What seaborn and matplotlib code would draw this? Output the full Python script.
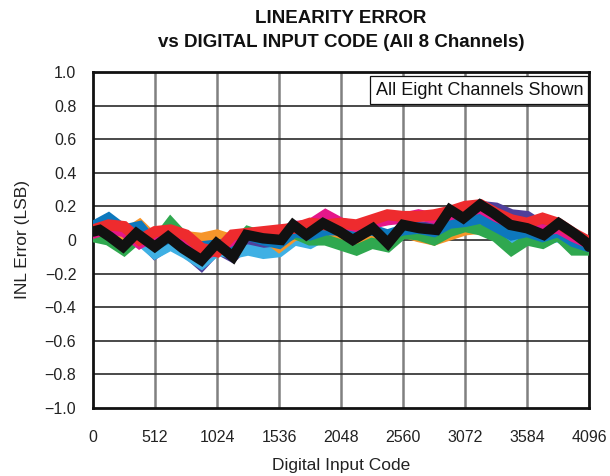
import matplotlib
matplotlib.use('Agg')
import matplotlib.pyplot as plt
import seaborn as sns
import pandas as pd
from matplotlib.ticker import FixedLocator

# codes read every 128 LSB for the coloured channels
codes = [0, 128, 256, 384, 512, 640, 768, 896, 1024, 1152, 1280, 1408, 1536,
         1664, 1792, 1920, 2048, 2176, 2304, 2432, 2560, 2688, 2816, 2944,
         3072, 3200, 3328, 3456, 3584, 3712, 3840, 3968, 4096]

ch_purple = [0.05, 0.05, 0.00, 0.02, -0.08, -0.02, -0.07, -0.15, -0.05, -0.10, -0.01,
             -0.03, -0.02, 0.05, 0.02, 0.06, 0.04, 0.00, 0.05, 0.00, 0.07, 0.08,
             0.07, 0.15, 0.16, 0.20, 0.19, 0.15, 0.14, 0.08, 0.09, 0.03, -0.02]
ch_lightblue = [0.04, 0.02, -0.02, 0.00, -0.08, -0.03, -0.08, -0.14, -0.06, -0.08, -0.06,
                -0.08, -0.07, 0.00, -0.02, 0.03, 0.02, -0.03, 0.02, 0.00, 0.04, 0.04,
                0.02, 0.08, 0.08, 0.10, 0.06, 0.00, 0.03, 0.00, 0.02, -0.03, -0.05]
ch_orange = [0.08, 0.10, 0.03, 0.09, 0.00, 0.06, 0.02, 0.01, 0.03, 0.00, 0.04,
             0.03, -0.04, 0.03, 0.02, 0.03, 0.02, 0.00, 0.04, 0.02, 0.05, 0.02,
             0.00, 0.03, 0.06, 0.07, 0.05, 0.05, 0.05, 0.02, 0.04, -0.02, -0.04]
ch_green = [0.02, 0.00, -0.06, 0.02, -0.02, 0.10, 0.00, -0.05, -0.03, -0.05, 0.05,
            0.02, 0.00, 0.04, 0.00, 0.00, -0.03, -0.06, -0.02, -0.04, 0.04, 0.03,
            0.00, 0.05, 0.08, 0.06, 0.02, -0.06, 0.00, -0.02, 0.03, -0.06, -0.06]
ch_blue = [0.08, 0.13, 0.06, 0.08, -0.03, 0.02, -0.02, -0.04, -0.03, -0.02, 0.03,
           0.00, -0.02, 0.05, 0.03, 0.06, 0.06, 0.04, 0.06, 0.03, 0.06, 0.07,
           0.05, 0.10, 0.11, 0.13, 0.08, 0.03, 0.05, 0.02, 0.05, -0.01, -0.04]
ch_magenta = [0.04, 0.07, 0.05, -0.02, 0.03, 0.04, 0.00, -0.10, -0.05, 0.00, 0.03,
              0.02, 0.04, 0.08, 0.09, 0.15, 0.10, 0.08, 0.10, 0.12, 0.13, 0.15,
              0.13, 0.15, 0.17, 0.19, 0.14, 0.10, 0.08, 0.06, 0.07, 0.02, -0.02]
ch_red = [0.06, 0.09, 0.08, 0.00, 0.05, 0.06, 0.03, -0.05, -0.07, 0.03, 0.04,
          0.05, 0.06, 0.07, 0.10, 0.09, 0.10, 0.09, 0.12, 0.15, 0.14, 0.14,
          0.15, 0.17, 0.20, 0.21, 0.16, 0.12, 0.10, 0.13, 0.10, 0.04, -0.01]

# black channel read at its turning points
codes_black = [0, 55, 138, 248, 358, 510, 620, 743, 895, 1019, 1156, 1266, 1404,
               1555, 1652, 1762, 1900, 2037, 2145, 2311, 2435, 2560, 2698, 2836,
               2947, 3058, 3196, 3307, 3445, 3584, 3722, 3846, 3971, 4082, 4096]
ch_black = [0.05, 0.06, 0.02, -0.04, 0.04, -0.04, 0.02, -0.05, -0.12, -0.02, -0.10,
            0.03, 0.01, 0.00, 0.09, 0.03, 0.10, 0.05, 0.00, 0.07, -0.02, 0.09,
            0.07, 0.06, 0.18, 0.13, 0.21, 0.16, 0.09, 0.07, 0.03, 0.10, 0.04,
            -0.02, -0.04]

names = ['purple', 'lightblue', 'orange', 'green', 'blue', 'magenta', 'red']
series = [ch_purple, ch_lightblue, ch_orange, ch_green, ch_blue, ch_magenta, ch_red]
palette = {'purple': '#4f3f9a', 'lightblue': '#3fb0e4', 'orange': '#f6952a',
           'green': '#2fa84f', 'blue': '#0d78bd', 'magenta': '#e5178a',
           'red': '#ee2b2e'}

df = pd.concat([pd.DataFrame({'code': codes, 'inl': s, 'channel': n})
                for n, s in zip(names, series)], ignore_index=True)
df_black = pd.DataFrame({'code': codes_black, 'inl': ch_black})

sns.set_theme(style='white')
plt.rcParams['font.family'] = ['Liberation Sans', 'DejaVu Sans']

fig = plt.figure(figsize=(6.1, 4.76), dpi=100)
ax = fig.add_axes([0.1525, 0.1429, 0.8131, 0.7058])

sns.lineplot(data=df, x='code', y='inl', hue='channel', hue_order=names,
             palette=palette, linewidth=8, legend=False, ax=ax,
             solid_joinstyle='miter', zorder=3)
sns.lineplot(data=df_black, x='code', y='inl', color='#111111', linewidth=7.5,
             ax=ax, solid_joinstyle='miter', zorder=4)

ax.set_xlim(0, 4096)
ax.set_ylim(-1.0, 1.0)
xt = [0, 512, 1024, 1536, 2048, 2560, 3072, 3584, 4096]
yt = [-1.0, -0.8, -0.6, -0.4, -0.2, 0, 0.2, 0.4, 0.6, 0.8, 1.0]
ax.xaxis.set_major_locator(FixedLocator(xt))
ax.yaxis.set_major_locator(FixedLocator(yt))
ax.set_xticklabels([str(v) for v in xt])
ax.set_yticklabels(['\u22121.0', '\u22120.8', '\u22120.6', '\u22120.4', '\u22120.2',
                    '0', '0.2', '0.4', '0.6', '0.8', '1.0'])
ax.tick_params(axis='both', length=0, labelsize=11.5, labelcolor='#222222')
ax.tick_params(axis='x', pad=16)
ax.tick_params(axis='y', pad=12)

for v in xt[1:-1]:
    ax.axvline(v, color='#808080', lw=1.8, zorder=1)
for v in yt[1:-1]:
    ax.axhline(v, color='#2a2a2a', lw=1.2, zorder=1)

for sp in ax.spines.values():
    sp.set_color('#111111')
    sp.set_linewidth(2)

ax.set_xlabel('Digital Input Code', fontsize=12.5, color='#222222')
ax.set_ylabel('INL Error (LSB)', fontsize=12.5, color='#222222')
ax.xaxis.set_label_coords(0.5, -0.15)
ax.yaxis.set_label_coords(-0.128, 0.5)

ax.text(0.988, 0.946, 'All Eight Channels Shown', transform=ax.transAxes,
        ha='right', va='center', fontsize=13, color='#111111', zorder=6,
        bbox=dict(boxstyle='square,pad=0.3', facecolor='white',
                  edgecolor='#111111', linewidth=0.9))

fig.text(0.559, 0.962, 'LINEARITY ERROR', ha='center', va='center',
         fontsize=13.5, fontweight='bold', color='#111111')
fig.text(0.559, 0.910, 'vs DIGITAL INPUT CODE (All 8 Channels)', ha='center',
         va='center', fontsize=13.5, fontweight='bold', color='#111111')

fig.savefig('out.png', dpi=100)
